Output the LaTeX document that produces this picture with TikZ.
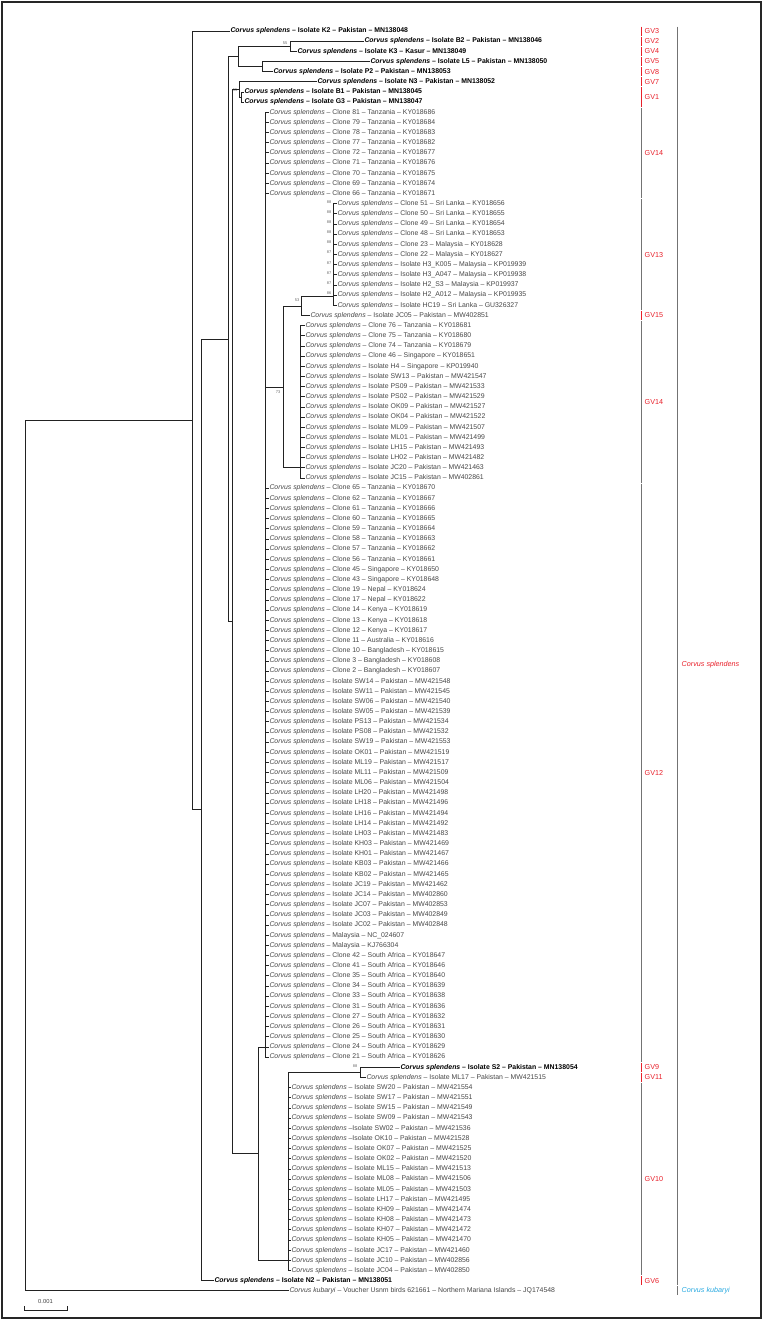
\documentclass[tikz,border=0pt]{standalone}
\usepackage{fontspec}
\usetikzlibrary{calc}
\setmainfont{Liberation Sans}
\definecolor{gvred}{HTML}{E8202A}
\definecolor{kblue}{HTML}{29A9E0}
\definecolor{brc}{HTML}{222222}
\newcommand\ry[1]{\fpeval{31+(#1-1)*10.16}}
\newcommand\lf[5]{\node[leaf,#4] (l#1) at (#3,{\ry{#1}}) {\textit{Corvus splendens} #5};\draw[br] (#2,{\ry{#1}}) -- (l#1.west);}
\newcommand\bs[3]{\node[boot] at (#1,#2) {#3};}
\newcommand\gv[4]{\draw[gvbar,#4] (641,{\ry{#1}-4.5}) -- (641,{\ry{#2}+4.5}); \node[gvl] at (644,{(\ry{#1}+\ry{#2})/2}) {#3};}
\begin{document}
\begin{tikzpicture}[x=1pt,y=-1pt,
  br/.style={draw=brc,line width=0.85pt},
  leaf/.style={anchor=west,inner sep=0.3pt,font=\fontsize{6.9}{7}\selectfont,text=black!72},
  bl/.style={font=\fontsize{6.9}{7}\selectfont\bfseries,text=black},
  boot/.style={anchor=east,inner sep=0.5pt,font=\fontsize{4}{4}\selectfont,text=black!60},
  gvbar/.style={draw=black!55,line width=0.8pt},
  gvl/.style={anchor=west,inner sep=0.5pt,font=\fontsize{7.2}{8}\selectfont,text=gvred}]
\useasboundingbox (0,0) rectangle (762,1320);
\draw[black!85,line width=2pt] (1.5,1.5) rectangle (760.5,1317.5);
% internal nodes
\coordinate (DA) at (290,46.24); \coordinate (DB) at (262,66.56);
\draw[br] (290,{\ry{2}}) -- (290,{\ry{3}});
\draw[br] (262,{\ry{4}}) -- (262,{\ry{5}});
\draw[br] (238,46.24) -- (238,66.56); \draw[br] (238,46.24) -- (DA); \draw[br] (238,66.56) -- (DB);
\bs{288}{43}{55}
\draw[br] (241,{\ry{7}}) -- (241,{\ry{8}});
\draw[br] (239,{\ry{6}}) -- (239,97.04) -- (241,97.04);
\bs{238}{90}{55}
% GV13 ladder
\draw[br] (333,{\ry{18}}) -- (333,{\ry{28}});
\draw[br] (301,296) -- (301,{\ry{29}}); \draw[br] (301,296) -- (333,296);
\bs{300}{300}{53}
\foreach \r/\v in {18/88,19/88,20/88,21/88,22/88,23/87,24/87,25/87,26/87,27/86}{\bs{332}{\ry{\r}-2}{\v}}
\draw[br] (300,{\ry{30}}) -- (300,{\ry{45}});
\draw[br] (283,306) -- (283,{\ry{44}}); \draw[br] (283,306) -- (301,306); \draw[br] (283,{\ry{44}}) -- (300,{\ry{44}});
\bs{281}{392}{73}
\draw[br] (265,{\ry{9}}) -- (265,{\ry{102}}); \draw[br] (265,387) -- (283,387);
\draw[br] (360,{\ry{103}}) -- (360,{\ry{104}});
\bs{358}{1066}{88}
\draw[br] (288,1072.4) -- (288,{\ry{123}}); \draw[br] (288,1072.4) -- (360,1072.4);
\draw[br] (258,{\ry{101}}) -- (258,{\ry{122}}); \draw[br] (258,{\ry{101}}) -- (265,{\ry{101}}); \draw[br] (258,{\ry{122}}) -- (288,{\ry{122}});
\draw[br] (232,89.42) -- (232,1153.7); \draw[br] (232,89.42) -- (239,89.42); \draw[br] (232,1153.7) -- (258,1153.7);
\draw[br] (228,56.4) -- (228,621.6); \draw[br] (228,56.4) -- (238,56.4); \draw[br] (228,621.6) -- (232,621.6);
\draw[br] (201,339) -- (201,{\ry{124}}); \draw[br] (201,339) -- (228,339);
\draw[br] (192,31) -- (192,809.8); \draw[br] (192,809.8) -- (201,809.8);
\draw[br] (25,420.4) -- (25,{\ry{125}}); \draw[br] (25,420.4) -- (192,420.4);
% leaves
\lf{1}{192}{230}{bl}{– Isolate K2 – Pakistan – MN138048}
\lf{2}{290}{364}{bl}{– Isolate B2 – Pakistan – MN138046}
\lf{3}{290}{297}{bl}{– Isolate K3 – Kasur – MN138049}
\lf{4}{262}{370}{bl}{– Isolate L5 – Pakistan – MN138050}
\lf{5}{262}{273}{bl}{– Isolate P2 – Pakistan – MN138053}
\lf{6}{239}{317}{bl}{– Isolate N3 – Pakistan – MN138052}
\lf{7}{241}{244}{bl}{– Isolate B1 – Pakistan – MN138045}
\lf{8}{241}{244}{bl}{– Isolate G3 – Pakistan – MN138047}
\foreach \r/\c/\a in {9/81/KY018686,10/79/KY018684,11/78/KY018683,12/77/KY018682,13/72/KY018677,14/71/KY018676,15/70/KY018675,16/69/KY018674,17/66/KY018671}{\lf{\r}{265}{269}{}{– Clone \c{} – Tanzania – \a}}
\lf{18}{333}{337}{}{– Clone 51 – Sri Lanka – KY018656}
\lf{19}{333}{337}{}{– Clone 50 – Sri Lanka – KY018655}
\lf{20}{333}{337}{}{– Clone 49 – Sri Lanka – KY018654}
\lf{21}{333}{337}{}{– Clone 48 – Sri Lanka – KY018653}
\lf{22}{333}{337}{}{– Clone 23 – Malaysia – KY018628}
\lf{23}{333}{337}{}{– Clone 22 – Malaysia – KY018627}
\lf{24}{333}{337}{}{– Isolate H3\_K005 – Malaysia – KP019939}
\lf{25}{333}{337}{}{– Isolate H3\_A047 – Malaysia – KP019938}
\lf{26}{333}{337}{}{– Isolate H2\_S3 – Malaysia – KP019937}
\lf{27}{333}{337}{}{– Isolate H2\_A012 – Malaysia – KP019935}
\lf{28}{333}{337}{}{– Isolate HC19 – Sri Lanka – GU326327}
\lf{29}{301}{310}{}{– Isolate JC05 – Pakistan – MW402851}
\lf{30}{300}{305}{}{– Clone 76 – Tanzania – KY018681}
\lf{31}{300}{305}{}{– Clone 75 – Tanzania – KY018680}
\lf{32}{300}{305}{}{– Clone 74 – Tanzania – KY018679}
\lf{33}{300}{305}{}{– Clone 46 – Singapore – KY018651}
\lf{34}{300}{305}{}{– Isolate H4 – Singapore – KP019940}
\foreach \r/\c/\a in {35/SW13/MW421547,36/PS09/MW421533,37/PS02/MW421529,38/OK09/MW421527,39/OK04/MW421522,40/ML09/MW421507,41/ML01/MW421499,42/LH15/MW421493,43/LH02/MW421482,44/JC20/MW421463,45/JC15/MW402861}{\lf{\r}{300}{305}{}{– Isolate \c{} – Pakistan – \a}}
\foreach \r/\c/\p/\a in {46/65/Tanzania/KY018670,47/62/Tanzania/KY018667,48/61/Tanzania/KY018666,49/60/Tanzania/KY018665,50/59/Tanzania/KY018664,51/58/Tanzania/KY018663,52/57/Tanzania/KY018662,53/56/Tanzania/KY018661,54/45/Singapore/KY018650,55/43/Singapore/KY018648,56/19/Nepal/KY018624,57/17/Nepal/KY018622,58/14/Kenya/KY018619,59/13/Kenya/KY018618,60/12/Kenya/KY018617,61/11/Australia/KY018616,62/10/Bangladesh/KY018615,63/3/Bangladesh/KY018608,64/2/Bangladesh/KY018607,92/42/South Africa/KY018647,93/41/South Africa/KY018646,94/35/South Africa/KY018640,95/34/South Africa/KY018639,96/33/South Africa/KY018638,97/31/South Africa/KY018636,98/27/South Africa/KY018632,99/26/South Africa/KY018631,100/25/South Africa/KY018630,101/24/South Africa/KY018629,102/21/South Africa/KY018626}{\lf{\r}{265}{269}{}{– Clone \c{} – \p{} – \a}}
\foreach \r/\c/\a in {65/SW14/MW421548,66/SW11/MW421545,67/SW06/MW421540,68/SW05/MW421539,69/PS13/MW421534,70/PS08/MW421532,71/SW19/MW421553,72/OK01/MW421519,73/ML19/MW421517,74/ML11/MW421509,75/ML06/MW421504,76/LH20/MW421498,77/LH18/MW421496,78/LH16/MW421494,79/LH14/MW421492,80/LH03/MW421483,81/KH03/MW421469,82/KH01/MW421467,83/KB03/MW421466,84/KB02/MW421465,85/JC19/MW421462,86/JC14/MW402860,87/JC07/MW402853,88/JC03/MW402849,89/JC02/MW402848}{\lf{\r}{265}{269}{}{– Isolate \c{} – Pakistan – \a}}
\lf{90}{265}{269}{}{– Malaysia – NC\_024607}
\lf{91}{265}{269}{}{– Malaysia – KJ766304}
\lf{103}{360}{400}{bl}{– Isolate S2 – Pakistan – MN138054}
\lf{104}{360}{366}{}{– Isolate ML17 – Pakistan – MW421515}
\foreach \r/\c/\a in {105/SW20/MW421554,106/SW17/MW421551,107/SW15/MW421549,108/SW09/MW421543,111/OK07/MW421525,112/OK02/MW421520,113/ML15/MW421513,114/ML08/MW421506,115/ML05/MW421503,116/LH17/MW421495,117/KH09/MW421474,118/KH08/MW421473,119/KH07/MW421472,120/KH05/MW421470,121/JC17/MW421460,122/JC10/MW402856,123/JC04/MW402850}{\lf{\r}{288}{291}{}{– Isolate \c{} – Pakistan – \a}}
\lf{109}{288}{291}{}{–Isolate SW02 – Pakistan – MW421536}
\lf{110}{288}{291}{}{–Isolate OK10 – Pakistan – MW421528}
\lf{124}{201}{214}{bl}{– Isolate N2 – Pakistan – MN138051}
\node[leaf] (l125) at (289,{\ry{125}}) {\textit{Corvus kubaryi} – Voucher Usnm birds 621661 – Northern Mariana Islands – JQ174548};
\draw[br] (25,{\ry{125}}) -- (l125.west);
% group bars
\gv{1}{1}{GV3}{draw=gvred}
\gv{2}{2}{GV2}{draw=gvred}
\gv{3}{3}{GV4}{draw=gvred}
\gv{4}{4}{GV5}{draw=gvred}
\gv{5}{5}{GV8}{draw=gvred}
\gv{6}{6}{GV7}{draw=gvred}
\gv{7}{8}{GV1}{draw=gvred}
\gv{9}{17}{GV14}{}
\gv{18}{28}{GV13}{}
\gv{29}{29}{GV15}{draw=gvred}
\gv{30}{45}{GV14}{}
\gv{46}{102}{GV12}{}
\gv{103}{103}{GV9}{draw=gvred}
\gv{104}{104}{GV11}{draw=gvred}
\gv{105}{123}{GV10}{}
\gv{124}{124}{GV6}{draw=gvred}
\draw[gvbar] (677,{\ry{1}-4.5}) -- (677,{\ry{124}+4.5});
\node[gvl,font=\fontsize{7.2}{8}\selectfont\itshape] (sp) at (681,665) {Corvus splendens};
\draw[gvbar] (677,{\ry{125}-4.5}) -- (677,{\ry{125}+4.5});
\node[gvl,text=kblue,font=\fontsize{7.2}{8}\selectfont\itshape] (kb) at (681,{\ry{125}}) {Corvus kubaryi};
% scale bar
\coordinate (s1) at (24,1310); \coordinate (s2) at (67,1310);
\draw[br,line width=0.8pt] ($(s1)+(0,-4)$) -- (s1) -- (s2) -- ($(s2)+(0,-4)$);
\node[font=\fontsize{5.8}{6}\selectfont,text=black!75] (sl) at (45.5,1301) {0.001};
\end{tikzpicture}
\end{document}
